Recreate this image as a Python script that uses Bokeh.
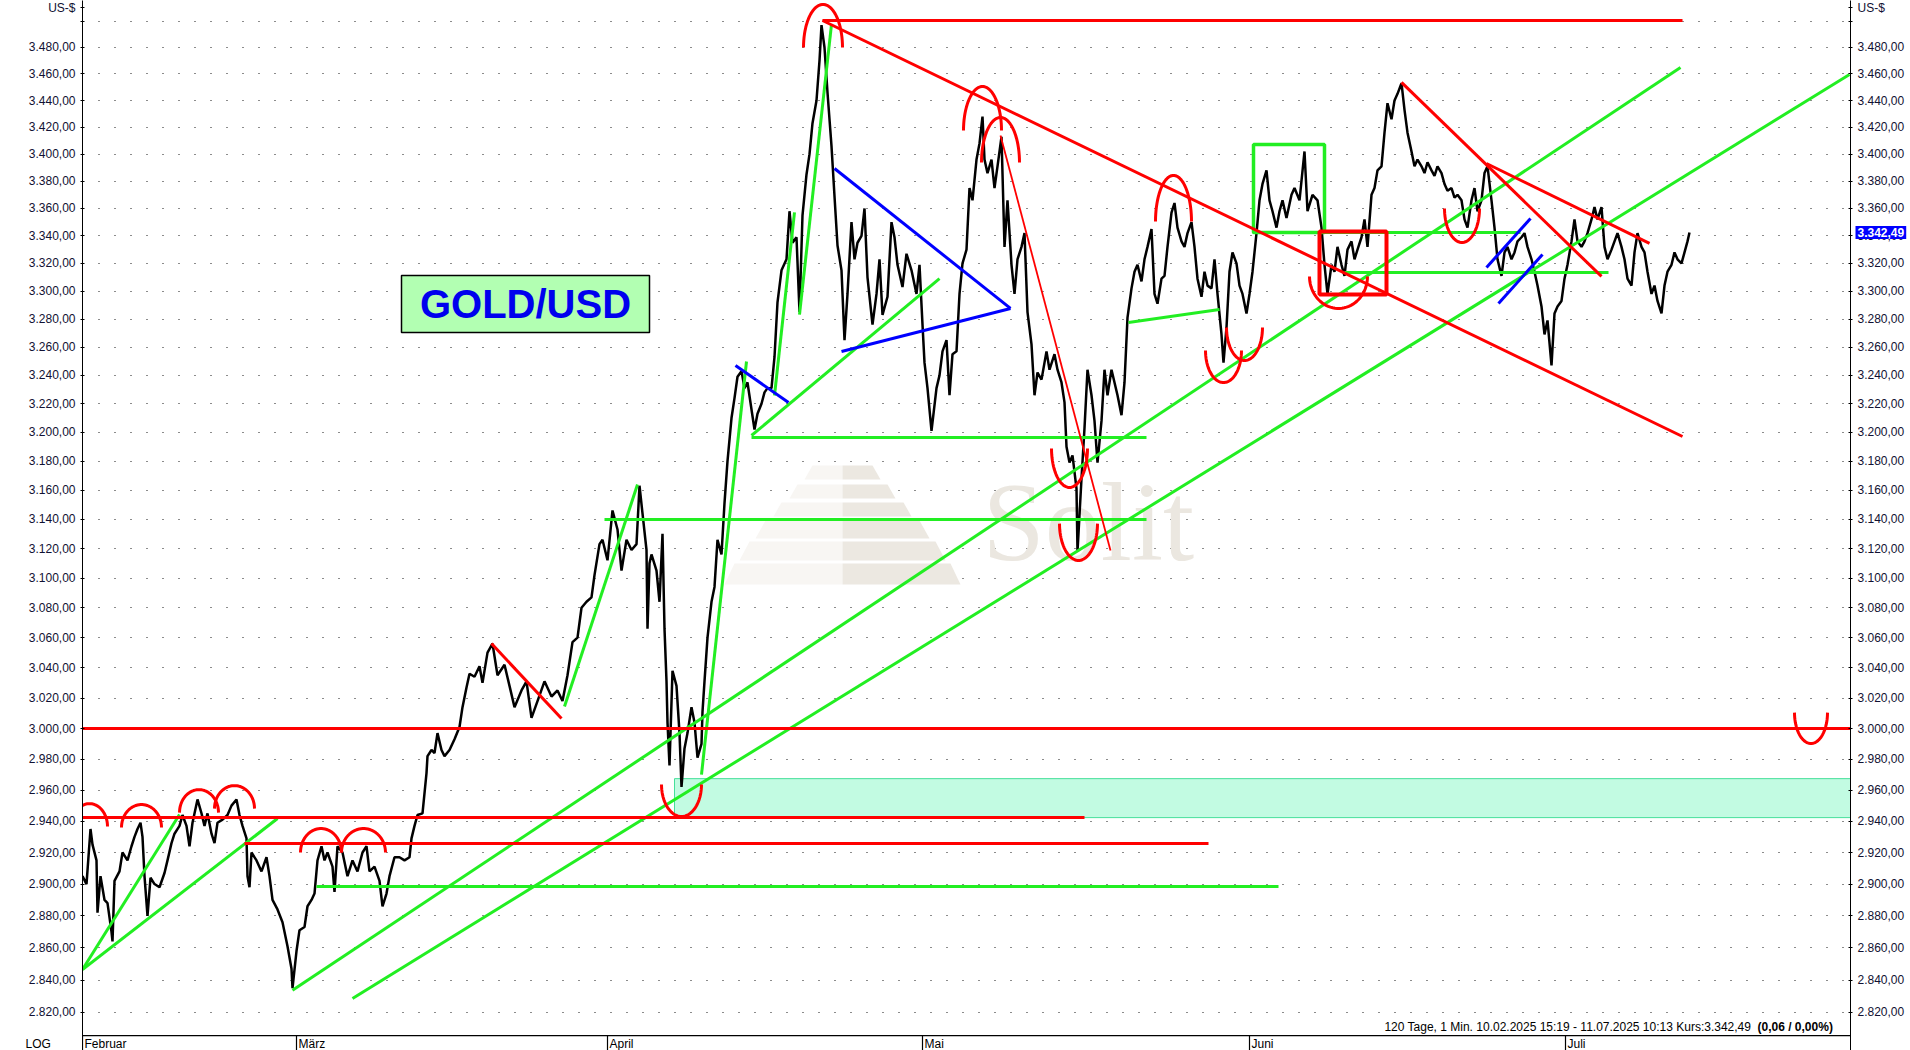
import numpy as np
from bokeh.plotting import figure
from bokeh.models import Range1d, LogAxis, FixedTicker, Label
from bokeh.core.properties import value
from bokeh.embed import file_html
from bokeh.resources import INLINE

# ---------------- Daten ----------------
# Zeitachse: Balkenindex (1 Einheit = ca. 1/3 Handelstag), Kurs in US-$
kurs_feb_maerz = [
    (0.0, 2905), (0.8, 2900), (1.6, 2935), (2.0, 2925), (2.8, 2915), (3.0, 2882), (3.6, 2905), (4.4, 2890),
    (5.0, 2888), (5.8, 2870), (6.0, 2864), (6.4, 2902), (7.4, 2908), (8.0, 2920), (9.0, 2915), (9.8, 2924),
    (10.4, 2930), (11.0, 2935), (11.6, 2939), (12.0, 2930), (12.4, 2905), (13.0, 2880), (13.6, 2904), (14.4, 2900),
    (15.4, 2898), (16.4, 2907), (17.0, 2915), (17.8, 2926), (18.4, 2932), (19.4, 2937), (20.0, 2944), (20.8, 2937),
    (21.4, 2924), (22.0, 2939), (23.0, 2954), (23.8, 2945), (24.4, 2937), (25.0, 2945), (25.8, 2932), (26.4, 2926),
    (27.0, 2939), (28.0, 2941), (29.0, 2944), (29.8, 2950), (30.8, 2954), (31.4, 2944), (32.0, 2937), (32.8, 2929),
    (33.0, 2905), (33.4, 2898), (33.8, 2920), (34.8, 2915), (35.8, 2908), (36.8, 2917), (37.4, 2905), (38.0, 2890),
    (39.0, 2884), (40.0, 2876), (41.0, 2861), (41.8, 2847), (42.0, 2835), (42.8, 2858), (43.4, 2871), (44.4, 2873),
    (45.0, 2886), (45.8, 2890), (46.4, 2894), (47.0, 2915), (47.8, 2924), (48.4, 2915), (49.0, 2920), (50.0, 2911),
    (50.4, 2895), (51.0, 2924), (52.0, 2920), (53.0, 2905), (54.0, 2915), (55.0, 2908), (56.0, 2920), (56.8, 2924),
    (57.4, 2908), (58.4, 2911), (59.4, 2902), (60.0, 2886), (60.8, 2894), (61.4, 2905), (62.4, 2917), (63.4, 2917),
    (64.4, 2915), (65.4, 2917), (65.8, 2929), (66.4, 2937), (67.0, 2944), (68.0, 2945), (68.8, 2971), (69.0, 2982),
    (69.8, 2986), (70.4, 2984), (71.0, 2997), (71.8, 2986), (72.4, 2982), (73.4, 2986), (74.4, 2993), (75.4, 3001),
    (76.0, 3014), (76.8, 3027), (77.4, 3036), (78.4, 3034), (79.4, 3041), (80.0, 3030), (81.0, 3050), (82.0, 3056),
]
kurs_april = [
    (83.0, 3035), (84.4, 3042), (85.4, 3028), (86.4, 3014), (87.8, 3025), (88.8, 3031), (89.8, 3007), (91.0, 3018),
    (92.4, 3031), (93.8, 3021), (95.0, 3025), (96.0, 3018), (97.0, 3035), (98.0, 3057), (99.0, 3060), (99.8, 3080),
    (100.8, 3084), (101.8, 3087), (102.4, 3102), (103.4, 3123), (104.0, 3126), (105.0, 3112), (106.0, 3146),
    (107.0, 3133), (107.8, 3105), (108.8, 3126), (109.8, 3119), (110.8, 3123), (111.4, 3163), (112.0, 3144),
    (112.8, 3119), (113.0, 3066), (113.4, 3110), (113.8, 3116), (114.8, 3105), (115.4, 3084), (116.0, 3130),
    (116.4, 3066), (116.8, 3031), (117.0, 3004), (117.4, 2976), (118.0, 3038), (118.8, 3028), (119.4, 2997),
    (119.8, 2962), (120.4, 2987), (121.0, 2997), (121.8, 3014), (122.4, 3004), (123.0, 2981), (123.8, 2990),
    (124.0, 3011), (124.4, 3031), (125.0, 3060), (125.8, 3084), (126.4, 3094), (127.0, 3126), (127.8, 3116),
    (128.4, 3151), (129.0, 3180), (129.8, 3210), (130.4, 3224), (131.0, 3239), (131.8, 3243), (132.4, 3231),
    (133.0, 3235), (133.8, 3216), (134.4, 3202), (135.0, 3213), (135.8, 3220), (136.4, 3228), (137.0, 3231),
    (137.8, 3231), (138.4, 3253), (139.0, 3292), (139.8, 3315), (140.8, 3323), (141.4, 3358), (142.0, 3335),
    (142.8, 3339), (143.4, 3285), (144.0, 3355), (144.8, 3385), (145.4, 3400), (146.0, 3423), (146.8, 3440),
    (147.4, 3470), (147.8, 3497), (148.4, 3480), (149.0, 3446), (149.8, 3406), (150.4, 3369), (151.0, 3333),
    (151.8, 3315), (152.4, 3265), (153.0, 3298), (153.8, 3350), (154.4, 3323), (155.0, 3335), (155.8, 3340),
    (156.4, 3360), (157.0, 3310), (158.0, 3276), (158.8, 3298), (159.4, 3323), (160.0, 3283), (161.0, 3296),
    (161.8, 3350), (162.4, 3339), (163.0, 3319), (164.0, 3303), (164.8, 3327), (165.8, 3315), (166.8, 3298),
    (167.4, 3319), (168.0, 3276),
]
kurs_mai = [
    (168.4, 3249), (169.0, 3231), (169.8, 3201), (170.8, 3231), (171.4, 3240), (172.0, 3257), (172.8, 3265),
    (173.4, 3226), (174.0, 3255), (174.8, 3257), (175.4, 3298), (176.0, 3320), (176.8, 3330), (177.4, 3375),
    (178.0, 3366), (178.8, 3396), (179.4, 3408), (180.0, 3428), (180.4, 3396), (181.0, 3386), (181.8, 3396),
    (182.4, 3375), (183.0, 3391), (183.8, 3413), (184.4, 3332), (185.0, 3366), (185.8, 3319), (186.4, 3298),
    (187.0, 3323), (187.8, 3332), (188.4, 3342), (189.0, 3285), (189.8, 3262), (190.4, 3226), (191.0, 3242),
    (191.8, 3237), (192.8, 3257), (193.4, 3244), (194.4, 3255), (195.0, 3244), (195.8, 3235), (196.4, 3221),
    (196.8, 3190), (197.4, 3179), (198.0, 3184), (198.8, 3161), (199.0, 3118), (199.8, 3168), (200.4, 3203),
    (201.0, 3244), (201.8, 3226), (202.4, 3208), (203.0, 3179), (203.8, 3208), (204.4, 3244), (205.0, 3226),
    (205.8, 3244), (206.4, 3235), (207.0, 3226), (207.8, 3212), (208.4, 3235), (209.0, 3281), (209.8, 3302),
    (210.4, 3314), (211.0, 3319), (211.8, 3307), (212.4, 3323), (213.0, 3332), (213.8, 3345), (214.4, 3298),
    (215.0, 3291), (215.8, 3309), (216.4, 3311), (217.0, 3332), (217.8, 3357), (218.4, 3364), (219.0, 3346),
    (219.8, 3336), (220.4, 3332), (221.0, 3342), (221.8, 3350), (222.4, 3332), (223.0, 3309), (223.8, 3296),
    (224.4, 3314), (225.0, 3304), (225.8, 3302), (226.4, 3323), (227.0, 3298), (227.8, 3269), (228.2, 3249),
    (228.8, 3274), (229.4, 3314), (230.0, 3328), (230.8, 3320), (231.4, 3304), (232.0, 3298), (232.8, 3284),
]
kurs_juni_juli = [
    (233.4, 3298), (234.0, 3314), (234.8, 3342), (235.4, 3366), (236.0, 3378), (236.8, 3388), (237.4, 3366),
    (238.0, 3358), (238.8, 3346), (239.4, 3358), (240.0, 3366), (240.8, 3353), (241.8, 3370), (242.4, 3375),
    (243.4, 3366), (244.4, 3402), (245.0, 3358), (246.0, 3370), (247.0, 3366), (247.8, 3346), (248.4, 3319),
    (249.0, 3298), (249.8, 3319), (250.4, 3314), (251.0, 3332), (251.8, 3319), (252.4, 3311), (253.0, 3330),
    (253.8, 3336), (254.4, 3323), (255.0, 3330), (255.8, 3339), (256.4, 3352), (257.0, 3332), (257.8, 3370),
    (258.4, 3375), (259.0, 3388), (259.8, 3391), (260.4, 3416), (261.0, 3438), (261.8, 3426), (262.4, 3440),
    (263.0, 3445), (263.8, 3453), (264.4, 3433), (265.0, 3416), (265.8, 3402), (266.4, 3391), (267.0, 3396),
    (267.8, 3391), (268.4, 3386), (269.0, 3394), (269.8, 3388), (270.4, 3384), (271.0, 3391), (271.8, 3386),
    (272.4, 3378), (273.0, 3373), (273.8, 3375), (274.4, 3368), (275.0, 3370), (275.8, 3366), (276.4, 3352),
    (277.0, 3346), (277.8, 3366), (278.4, 3375), (279.0, 3358), (279.8, 3366), (280.4, 3386), (281.0, 3391),
    (281.8, 3366), (282.4, 3346), (283.0, 3323), (283.8, 3311), (284.4, 3328), (285.0, 3332), (285.8, 3323),
    (286.4, 3328), (287.0, 3336), (287.8, 3339), (288.4, 3342), (289.0, 3332), (289.8, 3323), (290.4, 3314),
    (291.0, 3304), (291.8, 3289), (292.4, 3269), (293.0, 3279), (293.8, 3247), (294.4, 3284), (295.0, 3289),
    (295.8, 3293), (296.4, 3309), (297.0, 3319), (297.8, 3336), (298.4, 3352), (299.0, 3336), (299.8, 3332),
    (300.4, 3336), (301.0, 3342), (301.8, 3352), (302.4, 3361), (303.0, 3352), (303.8, 3361), (304.4, 3332),
    (305.0, 3323), (305.8, 3330), (306.4, 3336), (307.0, 3342), (307.8, 3332), (308.4, 3323), (309.0, 3309),
    (309.8, 3304), (310.4, 3328), (311.0, 3342), (311.8, 3332), (312.4, 3328), (313.0, 3314), (313.8, 3298),
    (314.4, 3304), (315.0, 3293), (315.8, 3284), (316.4, 3304), (317.0, 3314), (317.8, 3319), (318.4, 3328),
    (319.0, 3323), (319.8, 3320), (320.4, 3328), (321.0, 3336), (321.4, 3342.49),
]

monat_namen = ["Februar", "März", "April", "Mai", "Juni", "Juli"]
monat_start = [0.0, 42.8, 105.0, 168.0, 233.4, 296.6]

tick_werte = list(range(2820, 3501, 20))
einheit_kurs = 3510.5      # Position der Beschriftung "US-$"
achsen_kurs = 2805.8       # untere Kante des Kursbereichs (Zeitachse)
monat_kurs = 2800.6        # Hoehe der Monatsnamen
letzter_kurs = 3342.49
kursmarke_x = 354.6        # Kursmarke rechts neben der Achse

# Zeichnungen (Analyse-Linien): (x0, x1, Kurs)
rot_horizontal = [(148.0, 320.0, 3500.5), (0.0, 353.6, 3000.0), (0.0, 200.4, 2942.3), (32.4, 225.2, 2925.7)]
gruen_horizontal = [(46.8, 239.2, 2898.4), (104.4, 212.8, 3139.8), (133.8, 212.8, 3196.4),
                    (234.0, 287.6, 3342.5), (252.4, 305.2, 3313.4)]
# (x0, Kurs0, x1, Kurs1)
rot_schraeg = [(148.0, 3500.5, 320.0, 3197.1), (280.8, 3393.1, 313.4, 3334.5),
               (263.8, 3453.6, 303.8, 3310.6), (81.8, 3056.1, 95.8, 3006.5)]
rot_duenn = [(183.6, 3413.9, 205.6, 3118.6)]
gruen_schraeg = [(54.0, 2828.6, 353.4, 3459.6), (42.0, 2833.6, 319.6, 3464.9), (0.0, 2846.5, 19.4, 2944.3),
                 (0.0, 2846.5, 39.0, 2941.7), (96.4, 3014.4, 111.0, 3163.8), (123.8, 2970.0, 132.8, 3249.8),
                 (138.4, 3225.8, 142.4, 3357.1), (143.4, 3283.2, 149.8, 3497.5), (133.8, 3197.8, 171.4, 3309.1),
                 (209.2, 3277.5, 227.4, 3286.8)]
blau_schraeg = [(130.6, 3247.0, 141.2, 3220.9), (150.4, 3389.4, 185.6, 3287.6), (151.8, 3256.9, 185.6, 3287.6),
                (280.8, 3317.1, 289.6, 3352.7), (283.2, 3291.1, 292.0, 3326.5)]
# Rechtecke: (links, rechts, unten, oben)
gruen_rechteck = (234.2, 248.4, 3342.5, 3407.2)
rot_rechteck = (247.4, 260.8, 3297.6, 3343.2)
zone = (118.4, 353.6, 2942.3, 2967.4)
# Boegen: (x links, x rechts, Fuss links, Fuss rechts, Scheitel)
boegen = [(-2.2, 5.0, 2936.6, 2936.6, 2951.3), (7.8, 15.8, 2936.0, 2936.0, 2950.7),
          (19.4, 27.2, 2945.5, 2945.5, 2960.3), (26.4, 34.4, 2948.1, 2948.1, 2962.9),
          (43.6, 51.8, 2920.0, 2920.0, 2935.3), (51.8, 60.6, 2920.0, 2920.0, 2935.3),
          (144.2, 152.0, 3480.0, 3480.0, 3512.8), (115.8, 123.8, 2963.6, 2963.6, 2943.0),
          (176.2, 183.8, 3417.6, 3417.6, 3450.5), (179.8, 187.4, 3393.8, 3393.8, 3427.3),
          (193.8, 201.0, 3188.8, 3188.8, 3161.8), (195.4, 203.0, 3137.0, 3137.0, 3111.9),
          (214.6, 221.8, 3350.5, 3350.5, 3384.3), (224.6, 231.8, 3257.6, 3257.6, 3234.9),
          (228.8, 236.0, 3274.0, 3274.0, 3250.5), (245.4, 257.0, 3310.6, 3310.6, 3287.6),
          (272.4, 279.4, 3360.0, 3360.0, 3335.2), (342.4, 349.0, 3010.4, 3010.4, 2990.2)]
titel_box = (63.8, 113.4, 3270.4, 3311.3)
# Wasserzeichen: Stufen (Mitte, halbe Breite oben, halbe Breite unten, Kurs oben, Kurs unten)
pyramide = [(152.0, 6.0, 7.6, 3177.0, 3167.3), (152.0, 9.0, 10.6, 3163.8, 3154.2),
            (152.0, 12.2, 13.8, 3151.5, 3141.9), (152.0, 15.4, 17.4, 3139.1, 3126.8),
            (152.0, 18.6, 20.6, 3124.8, 3111.9), (152.0, 21.6, 23.6, 3109.8, 3095.6)]
wasserzeichen_pos = (180.0, 3138.4)

# ---------------- Figur ----------------
ROT = "#ff0000"
GRUEN = "#22ee22"
BLAU = "#0000ff"
FONT = "Liberation Sans"

p = figure(frame_width=1768, frame_height=1050, x_range=Range1d(0, 353.6), y_range=Range1d(2796.7, 3515.8),
           y_axis_type="log", x_axis_location=None, output_backend="svg", toolbar_location=None,
           min_border_left=78, min_border_right=58, min_border_top=0, min_border_bottom=0)
p.outline_line_color = None
p.background_fill_color = "white"
p.xgrid.visible = False


def de_format(v):
    s = f"{v:,.2f}"
    return s.replace(",", "#").replace(".", ",").replace("#", ".")


achsen_ticker = FixedTicker(ticks=tick_werte + [einheit_kurs])
overrides = {v: de_format(v) for v in tick_werte}
overrides[3500] = ""
overrides[einheit_kurs] = "US-$"

yl = p.yaxis[0]
yr = LogAxis()
p.add_layout(yr, "right")
for ax in (yl, yr):
    ax.ticker = achsen_ticker
    ax.major_label_overrides = overrides
    ax.major_tick_in = 2
    ax.major_tick_out = 2
    ax.minor_tick_in = 0
    ax.minor_tick_out = 0
    ax.major_label_standoff = 5
    ax.major_label_text_font = FONT
    ax.major_label_text_font_size = "12px"
    ax.major_label_text_color = "#111133"
    ax.axis_line_color = "black"

p.ygrid.ticker = FixedTicker(ticks=tick_werte)
p.ygrid.grid_line_color = "black"
p.ygrid.grid_line_dash = "1 15"
p.ygrid.grid_line_alpha = 0.9

# Wasserzeichen
for mx, hwo, hwu, ko, ku in pyramide:
    p.patch([mx - hwu, mx - hwo, mx, mx], [ku, ko, ko, ku], fill_color="#f8f6f3", line_color=None)
    p.patch([mx, mx, mx + hwo, mx + hwu], [ku, ko, ko, ku], fill_color="#ece8e1", line_color=None)
p.text(x=[wasserzeichen_pos[0]], y=[wasserzeichen_pos[1]], text=["Solit"], text_font=value("Liberation Serif"),
       text_font_size=value("112px"), text_color="#ebe7e0", text_baseline="alphabetic", text_align="left")

# Zone
p.quad(left=[zone[0]], right=[zone[1]], bottom=[zone[2]], top=[zone[3]],
       fill_color="#c2fbe2", line_color="#45e09a", line_width=1)

# Kurs
kurs = kurs_feb_maerz + kurs_april + kurs_mai + kurs_juni_juli
p.line([k[0] for k in kurs], [k[1] for k in kurs], line_color="black", line_width=2.5)

# Analyse-Linien
p.segment(x0=[h[0] for h in gruen_horizontal], x1=[h[1] for h in gruen_horizontal],
          y0=[h[2] for h in gruen_horizontal], y1=[h[2] for h in gruen_horizontal],
          line_color=GRUEN, line_width=3)
p.segment(x0=[s[0] for s in gruen_schraeg], y0=[s[1] for s in gruen_schraeg],
          x1=[s[2] for s in gruen_schraeg], y1=[s[3] for s in gruen_schraeg],
          line_color=GRUEN, line_width=3)
p.quad(left=[gruen_rechteck[0]], right=[gruen_rechteck[1]], bottom=[gruen_rechteck[2]],
       top=[gruen_rechteck[3]], fill_color=None, line_color=GRUEN, line_width=3.5)
p.segment(x0=[h[0] for h in rot_horizontal], x1=[h[1] for h in rot_horizontal],
          y0=[h[2] for h in rot_horizontal], y1=[h[2] for h in rot_horizontal],
          line_color=ROT, line_width=3)
p.segment(x0=[s[0] for s in rot_schraeg], y0=[s[1] for s in rot_schraeg],
          x1=[s[2] for s in rot_schraeg], y1=[s[3] for s in rot_schraeg],
          line_color=ROT, line_width=3)
p.segment(x0=[s[0] for s in rot_duenn], y0=[s[1] for s in rot_duenn],
          x1=[s[2] for s in rot_duenn], y1=[s[3] for s in rot_duenn],
          line_color=ROT, line_width=1.8)
p.quad(left=[rot_rechteck[0]], right=[rot_rechteck[1]], bottom=[rot_rechteck[2]],
       top=[rot_rechteck[3]], fill_color=None, line_color=ROT, line_width=4)
p.segment(x0=[s[0] for s in blau_schraeg], y0=[s[1] for s in blau_schraeg],
          x1=[s[2] for s in blau_schraeg], y1=[s[3] for s in blau_schraeg],
          line_color=BLAU, line_width=3)

bx, by = [], []
th = np.linspace(0, np.pi, 40)
for xl, xr, fl, fr, sch in boegen:
    s = (1 - np.cos(th)) / 2
    xs = xl + (xr - xl) * s
    basis = np.log(fl) + (np.log(fr) - np.log(fl)) * s
    amp = np.log(sch) - (np.log(fl) + np.log(fr)) / 2
    bx.append(list(xs))
    by.append(list(np.exp(basis + amp * np.sin(th))))
p.multi_line(bx, by, line_color=ROT, line_width=3)

# Titelbox
p.quad(left=[titel_box[0]], right=[titel_box[1]], bottom=[titel_box[2]], top=[titel_box[3]],
       fill_color="#b2ffb2", line_color="black", line_width=1.5)
p.text(x=[(titel_box[0] + titel_box[1]) / 2], y=[float(np.sqrt(titel_box[2] * titel_box[3]))], text=["GOLD/USD"],
       text_font=value(FONT), text_font_style="bold", text_font_size=value("40px"),
       text_color="#0000ee", text_align="center", text_baseline="middle")

# Zeitachse (Linie, Monatstrenner, Monatsnamen)
p.segment(x0=[-20.0], x1=[400.0], y0=[achsen_kurs], y1=[achsen_kurs], line_color="black", line_width=1.2)
p.segment(x0=monat_start, x1=monat_start, y0=[achsen_kurs] * len(monat_start),
          y1=[2790.0] * len(monat_start), line_color="black", line_width=1.2)
p.text(x=monat_start, y=[monat_kurs] * len(monat_start), text=monat_namen, x_offset=2,
       text_font=value(FONT), text_font_size=value("12px"), text_color="black",
       text_align="left", text_baseline="middle")

# Fusszeile
p.add_layout(Label(x=1672, y=24, x_units="screen", y_units="screen",
                   text="120 Tage, 1 Min. 10.02.2025 15:19 - 11.07.2025 10:13  Kurs:3.342,49",
                   text_align="right", text_baseline="middle", text_font=FONT, text_font_size="12px",
                   text_color="black"))
p.add_layout(Label(x=1675, y=24, x_units="screen", y_units="screen", text="(0,06 / 0,00%)",
                   text_align="left", text_baseline="middle", text_font=FONT, text_font_size="12px",
                   text_font_style="bold", text_color="black"))

# Beschriftungen in den Randbereichen
p.add_layout(Label(x=25, y=monat_kurs, x_units="screen", y_units="data", text="LOG", text_align="left",
                   text_baseline="middle", text_font=FONT, text_font_size="12px", text_color="black"), "left")
p.add_layout(Label(x=kursmarke_x, y=letzter_kurs, x_units="data", y_units="data", text=de_format(letzter_kurs),
                   text_align="left", text_baseline="middle", text_font=FONT, text_font_size="12px",
                   text_font_style="bold", text_color="white", background_fill_color="#0000ff", padding=2),
             "right")

open("out.html", "w").write(file_html(p, INLINE))
